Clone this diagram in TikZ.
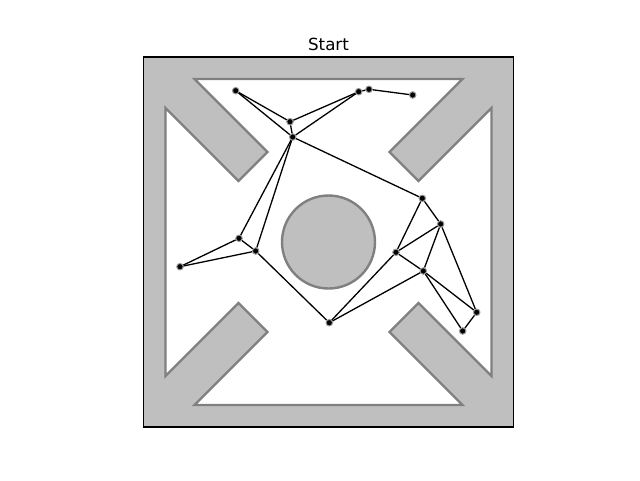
\documentclass[tikz,border=0pt]{standalone}
\usepackage{fontspec}
\setmainfont{DejaVu Sans}
\begin{document}
\begin{tikzpicture}[x=1pt,y=-1pt,
  vtx/.style={circle,inner sep=0pt,minimum size=6.5pt,fill=black,draw=black!40,line width=1pt},
  edge/.style={black,line width=1.3pt},
  obst/.style={fill=obsfill,draw=obsedge,line width=2.4pt,line join=miter},
]
\definecolor{obsfill}{HTML}{BFBFBF}
\definecolor{obsedge}{HTML}{808080}
\useasboundingbox (0,0) rectangle (640,480);
% axes background (obstacle region)
\fill[obsfill] (143.5,57) rectangle (513.5,427);
% free space
\begin{scope}[shift={(328.5,242)}]
\draw[obsedge,line width=2.4pt,fill=white]
  (-134,-163) -- (134,-163) -- (61,-90) -- (90,-61) -- (163,-134) -- (163,134)
  -- (90,61) -- (61,90) -- (134,163) -- (-134,163) -- (-61,90) -- (-90,61)
  -- (-163,134) -- (-163,-134) -- (-90,-61) -- (-61,-90) -- cycle;
\draw[obst] (0,0) circle (46.5);
\end{scope}
\draw[black,line width=1.1pt] (143.5,57) rectangle (513.5,427);
\node[font=\fontsize{16.7}{20}\selectfont] (title) at (328.5,44) {Start};
% vertices
\node[vtx] (A) at (235.7,90.7) {};
\node[vtx] (B) at (290,121.7) {};
\node[vtx] (C) at (292.7,137) {};
\node[vtx] (D) at (358.7,91.7) {};
\node[vtx] (E) at (369,89.3) {};
\node[vtx] (F) at (412.7,95) {};
\node[vtx] (G) at (422.3,198.3) {};
\node[vtx] (H) at (440.7,224) {};
\node[vtx] (I) at (396,252.3) {};
\node[vtx] (J) at (423.3,271) {};
\node[vtx] (K) at (476.7,312.3) {};
\node[vtx] (L) at (462.7,331) {};
\node[vtx] (M) at (239,238.3) {};
\node[vtx] (N) at (255.7,251) {};
\node[vtx] (O) at (180,266.7) {};
\node[vtx] (P) at (329.3,322.7) {};
% edges
\draw[edge] (A) -- (B);
\draw[edge] (A) -- (C);
\draw[edge] (B) -- (C);
\draw[edge] (B) -- (D);
\draw[edge] (C) -- (D);
\draw[edge] (D) -- (E);
\draw[edge] (E) -- (F);
\draw[edge] (C) -- (G);
\draw[edge] (C) -- (M);
\draw[edge] (C) -- (N);
\draw[edge] (M) -- (O);
\draw[edge] (M) -- (N);
\draw[edge] (N) -- (O);
\draw[edge] (N) -- (P);
\draw[edge] (P) -- (I);
\draw[edge] (P) -- (J);
\draw[edge] (G) -- (I);
\draw[edge] (G) -- (H);
\draw[edge] (H) -- (I);
\draw[edge] (H) -- (J);
\draw[edge] (H) -- (K);
\draw[edge] (I) -- (J);
\draw[edge] (J) -- (K);
\draw[edge] (J) -- (L);
\draw[edge] (K) -- (L);
\end{tikzpicture}
\end{document}
